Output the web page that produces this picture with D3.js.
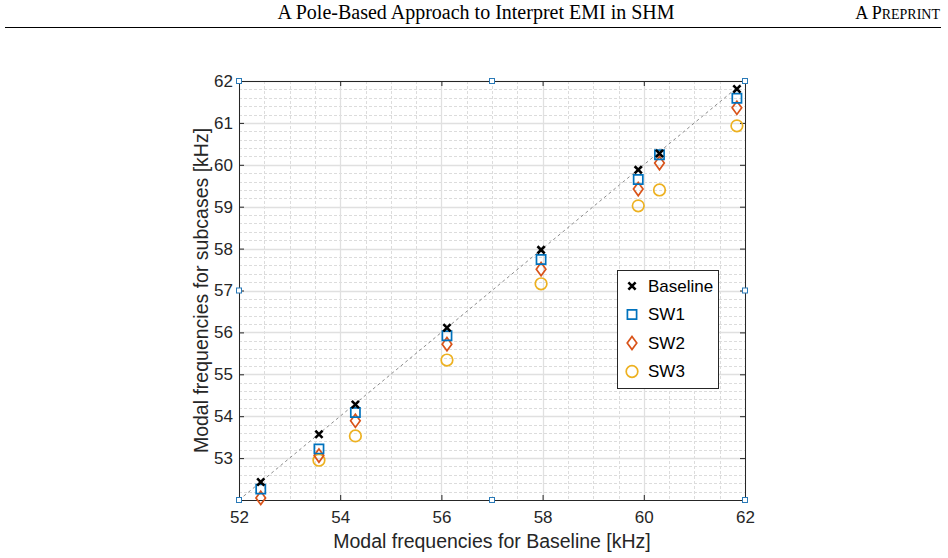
<!DOCTYPE html>
<html>
<head>
<meta charset="utf-8">
<script src="https://cdn.jsdelivr.net/npm/d3@7"></script>
<style>
	body { margin: 0; background: #fff; }
	svg { display: block; }
</style>
</head>
<body>
<div id="chart"></div>
<script>
// baseline modal frequencies (x) and the three subcase series (y), kHz
var baseline = [ 52.43, 53.58, 54.30, 56.11, 57.97, 59.89, 60.31, 61.84 ];
var baselineY = [ 52.43, 53.57, 54.28, 56.11, 57.97, 59.88, 60.27, 61.81 ];
var sw1 = [ 52.26, 53.22, 54.09, 55.92, 57.74, 59.65, 60.24, 61.59 ];
var sw2 = [ 52.05, 53.06, 53.89, 55.72, 57.51, 59.42, 60.04, 61.36 ];
var sw3 = [ 51.70, 52.95, 53.53, 55.34, 57.16, 59.02, 59.40, 60.93 ];

var seriesNames = [ 'Baseline', 'SW1', 'SW2', 'SW3' ];
var xTicks = [ 52, 54, 56, 58, 60, 62 ];
var yTicks = [ 53, 54, 55, 56, 57, 58, 59, 60, 61, 62 ];

var W = 948, H = 558;
var margin = { left: 239, top: 81, right: 948 - 745, bottom: 558 - 500 };
var size = { width: W - margin.left - margin.right, height: H - margin.top - margin.bottom };

var colors = { Baseline: '#000000', SW1: '#0072BD', SW2: '#D95319', SW3: '#EDB120' };
var axisColor = '#262626';
var font = 'Arial, "Liberation Sans", Helvetica, sans-serif';
var serif = '"Liberation Serif", "Times New Roman", serif';

var svg = d3.select( '#chart' ).append( 'svg' )
	.attr( 'width', W )
	.attr( 'height', H )
	.style( 'background', '#fff' );

// page header
svg.append( 'text' )
	.attr( 'x', 476 ).attr( 'y', 19 )
	.attr( 'text-anchor', 'middle' )
	.style( 'font', '20px ' + serif )
	.text( 'A Pole-Based Approach to Interpret EMI in SHM' );

var pre = svg.append( 'text' )
	.attr( 'x', 940 ).attr( 'y', 19 )
	.attr( 'text-anchor', 'end' )
	.style( 'font-family', serif )
	.style( 'font-size', '18px' );
pre.append( 'tspan' ).text( 'A P' );
pre.append( 'tspan' ).style( 'font-size', '14px' ).text( 'REPRINT' );

svg.append( 'line' )
	.attr( 'x1', 5 ).attr( 'x2', 941 )
	.attr( 'y1', 27.5 ).attr( 'y2', 27.5 )
	.attr( 'stroke', '#000' ).attr( 'stroke-width', 1 );

var x = d3.scaleLinear().domain( [ 52, 62 ] ).range( [ 0, size.width ] );
var y = d3.scaleLinear().domain( [ 52, 62 ] ).range( [ size.height, 0 ] );

var root = svg.append( 'g' )
	.attr( 'transform', 'translate(' + margin.left + ',' + margin.top + ')' );

// grids: minor first, then major
var grid = root.append( 'g' ).attr( 'class', 'grid' );

var xMinor = d3.range( 52.5, 62, 0.5 ).filter( function( v ) { return Math.abs( v % 2 ) > 1e-6; } );
var yMinor = d3.range( 52.2, 62, 0.2 ).filter( function( v ) { return Math.abs( v - Math.round( v ) ) > 1e-6; } );

grid.selectAll( '.xminor' ).data( xMinor ).enter().append( 'line' )
	.attr( 'x1', function( d ) { return Math.round( x( d ) ) + 0.5; } )
	.attr( 'x2', function( d ) { return Math.round( x( d ) ) + 0.5; } )
	.attr( 'y1', 0 ).attr( 'y2', size.height )
	.attr( 'stroke', '#dcdcdc' ).attr( 'stroke-dasharray', '3,2' );

grid.selectAll( '.yminor' ).data( yMinor ).enter().append( 'line' )
	.attr( 'y1', function( d ) { return Math.round( y( d ) ) + 0.5; } )
	.attr( 'y2', function( d ) { return Math.round( y( d ) ) + 0.5; } )
	.attr( 'x1', 0 ).attr( 'x2', size.width )
	.attr( 'stroke', '#dcdcdc' ).attr( 'stroke-dasharray', '3,2' );

grid.selectAll( '.xmajor' ).data( xTicks ).enter().append( 'line' )
	.attr( 'x1', function( d ) { return Math.round( x( d ) ) + 0.5; } )
	.attr( 'x2', function( d ) { return Math.round( x( d ) ) + 0.5; } )
	.attr( 'y1', 0 ).attr( 'y2', size.height )
	.attr( 'stroke', '#e0e0e0' ).attr( 'stroke-width', 1.3 );

grid.selectAll( '.ymajor' ).data( yTicks ).enter().append( 'line' )
	.attr( 'y1', function( d ) { return Math.round( y( d ) ) + 0.5; } )
	.attr( 'y2', function( d ) { return Math.round( y( d ) ) + 0.5; } )
	.attr( 'x1', 0 ).attr( 'x2', size.width )
	.attr( 'stroke', '#e0e0e0' ).attr( 'stroke-width', 1.3 );

// identity line
root.append( 'line' )
	.attr( 'x1', x( 52 ) ).attr( 'y1', y( 52 ) )
	.attr( 'x2', x( 62 ) ).attr( 'y2', y( 62 ) )
	.attr( 'stroke', '#8c8c8c' ).attr( 'stroke-width', 1 )
	.attr( 'stroke-dasharray', '3,3' );

// axes (box with inward ticks)
var styleAxis = function( g )
{
	g.select( '.domain' ).attr( 'stroke', axisColor );
	g.selectAll( '.tick line' ).attr( 'stroke', axisColor );
	g.selectAll( 'text' ).attr( 'fill', axisColor ).style( 'font', '17px ' + font );
};

root.append( 'g' )
	.attr( 'transform', 'translate(0,' + size.height + ')' )
	.call( d3.axisBottom( x ).tickValues( xTicks ).tickSizeInner( -5 ).tickSizeOuter( 0 ).tickPadding( 11 ) )
	.call( styleAxis );

root.append( 'g' )
	.call( d3.axisTop( x ).tickValues( xTicks ).tickSizeInner( -5 ).tickSizeOuter( 0 ).tickFormat( '' ) )
	.call( styleAxis );

root.append( 'g' )
	.call( d3.axisLeft( y ).tickValues( yTicks ).tickSizeInner( -5 ).tickSizeOuter( 0 ).tickPadding( 6 ) )
	.call( styleAxis );

root.append( 'g' )
	.attr( 'transform', 'translate(' + size.width + ',0)' )
	.call( d3.axisRight( y ).tickValues( yTicks ).tickSizeInner( -5 ).tickSizeOuter( 0 ).tickFormat( '' ) )
	.call( styleAxis );

// marker shapes
var markerPath = function( name, cx, cy )
{
	if( name == 'Baseline' )
	{
		var s = 3.6;
		return 'M' + ( cx - s ) + ',' + ( cy - s ) + 'L' + ( cx + s ) + ',' + ( cy + s ) +
			'M' + ( cx - s ) + ',' + ( cy + s ) + 'L' + ( cx + s ) + ',' + ( cy - s );
	}
	if( name == 'SW1' )
	{
		var h = 4.6;
		return 'M' + ( cx - h ) + ',' + ( cy - h ) + 'h' + 2 * h + 'v' + 2 * h + 'h' + ( -2 * h ) + 'Z';
	}
	if( name == 'SW2' )
	{
		var w = 4.8, t = 6.6;
		return 'M' + cx + ',' + ( cy - t ) + 'L' + ( cx + w ) + ',' + cy + 'L' + cx + ',' + ( cy + t ) + 'L' + ( cx - w ) + ',' + cy + 'Z';
	}
	var r = 5.8;
	return 'M' + ( cx - r ) + ',' + cy + 'a' + r + ',' + r + ' 0 1,0 ' + 2 * r + ',0a' + r + ',' + r + ' 0 1,0 ' + ( -2 * r ) + ',0Z';
};

var series = [
	{ name: 'SW3', xs: baseline, ys: sw3 },
	{ name: 'SW2', xs: baseline, ys: sw2 },
	{ name: 'SW1', xs: baseline, ys: sw1 },
	{ name: 'Baseline', xs: baseline, ys: baselineY }
];

// points outside the axis limits are not drawn
var inside = function( d ) { return d.x >= 52 && d.x <= 62 && d.y >= 52 && d.y <= 62; };

series.forEach( function( s )
{
	root.append( 'g' ).attr( 'class', 'points' )
		.selectAll( 'path' )
		.data( s.ys.map( function( v, i ) { return { x: s.xs[ i ], y: v }; } ).filter( inside ) )
		.enter()
		.append( 'path' )
		.attr( 'd', function( d ) { return markerPath( s.name, x( d.x ), y( d.y ) ); } )
		.attr( 'fill', 'none' )
		.attr( 'stroke', colors[ s.name ] )
		.attr( 'stroke-width', s.name == 'Baseline' ? 2.6 : 1.7 );
} );

// selection handles drawn by the figure editor
var handles = [ [ 52, 62 ], [ 57, 62 ], [ 62, 62 ], [ 52, 57 ], [ 62, 57 ], [ 52, 52 ], [ 57, 52 ], [ 62, 52 ] ];
root.selectAll( '.handle' ).data( handles ).enter().append( 'rect' )
	.attr( 'x', function( d ) { return x( d[ 0 ] ) - 2.5; } )
	.attr( 'y', function( d ) { return y( d[ 1 ] ) - 2.5; } )
	.attr( 'width', 5 ).attr( 'height', 5 )
	.attr( 'fill', '#fff' ).attr( 'stroke', '#2a7ab8' ).attr( 'stroke-width', 1 );

// axis labels
svg.append( 'text' )
	.attr( 'x', margin.left + size.width / 2 ).attr( 'y', 548 )
	.attr( 'text-anchor', 'middle' )
	.attr( 'fill', axisColor )
	.style( 'font', '19.5px ' + font )
	.text( 'Modal frequencies for Baseline [kHz]' );

svg.append( 'text' )
	.attr( 'transform', 'translate(208,' + ( margin.top + size.height / 2 ) + ') rotate(-90)' )
	.attr( 'text-anchor', 'middle' )
	.attr( 'fill', axisColor )
	.style( 'font', '19.5px ' + font )
	.text( 'Modal frequencies for subcases [kHz]' );

// legend
var legend = svg.append( 'g' ).attr( 'transform', 'translate(617,270)' );
legend.append( 'rect' )
	.attr( 'x', 0.5 ).attr( 'y', 0.5 )
	.attr( 'width', 101 ).attr( 'height', 118 )
	.attr( 'fill', '#fff' ).attr( 'stroke', '#262626' ).attr( 'stroke-width', 1 );

var items = legend.selectAll( '.item' ).data( seriesNames ).enter().append( 'g' )
	.attr( 'transform', function( d, i ) { return 'translate(0,' + ( 16 + i * 28.5 ) + ')'; } );

items.append( 'path' )
	.attr( 'd', function( d ) { return markerPath( d, 15, 0 ); } )
	.attr( 'fill', 'none' )
	.attr( 'stroke', function( d ) { return colors[ d ]; } )
	.attr( 'stroke-width', function( d ) { return d == 'Baseline' ? 2.6 : 1.7; } );

items.append( 'text' )
	.attr( 'x', 31 ).attr( 'dy', '0.35em' )
	.attr( 'fill', '#000' )
	.style( 'font', '17px ' + font )
	.text( function( d ) { return d; } );
</script>
</body>
</html>
